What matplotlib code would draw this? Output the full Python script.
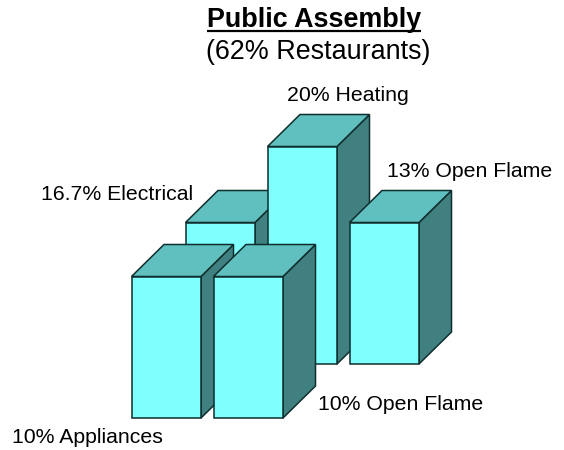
import matplotlib
matplotlib.use("Agg")
from matplotlib import pyplot as plt
from matplotlib.patches import Polygon

plt.rcParams['font.family'] = ['Liberation Sans', 'DejaVu Sans']

title = "Public Assembly"
subtitle = "(62% Restaurants)"

# drawn back row first, left to right
labels = ["16.7% Electrical", "20% Heating", "13% Open Flame", "10% Appliances", "10% Open Flame"]
# bar heights as pictured, not proportional to the percentages
heights = [141.5, 217.5, 141.5, 141.5, 141.5]

lefts = [185.5, 267.5, 349.5, 131.5, 213.5]
bases = [364, 364, 364, 418, 418]
label_x = [117, 348, 469.5, 87.5, 401]
label_y = [200.5, 101, 177, 443, 410]

BAR_W = 69.5
DEPTH_X = 32.5
DEPTH_Y = 32
FRONT = "#80ffff"
TOP = "#60c0c0"
SIDE = "#408080"
EDGE = "#102e2e"


def draw_bar(ax, left, base, height):
    right = left + BAR_W
    top = base - height
    side = [(right, base), (right + DEPTH_X, base - DEPTH_Y),
            (right + DEPTH_X, top - DEPTH_Y), (right, top)]
    lid = [(left, top), (left + DEPTH_X, top - DEPTH_Y),
           (right + DEPTH_X, top - DEPTH_Y), (right, top)]
    front = [(left, base), (left, top), (right, top), (right, base)]
    for pts, col in [(side, SIDE), (lid, TOP), (front, FRONT)]:
        ax.add_patch(Polygon(pts, closed=True, facecolor=col, edgecolor=EDGE,
                             linewidth=1.1, joinstyle='miter'))


fig = plt.figure(figsize=(5.64, 4.5), dpi=100)
ax = fig.add_axes([0, 0, 1, 1])
ax.set_xlim(0, 564)
ax.set_ylim(450, 0)
ax.axis('off')

for i in range(len(heights)):
    draw_bar(ax, lefts[i], bases[i], heights[i])

ax.text(314, 27, title, ha='center', va='baseline', fontsize=19.4, fontweight='bold', color='black')
ax.plot([207, 421], [30.5, 30.5], color='black', lw=1.6, solid_capstyle='butt')
ax.text(318, 59, subtitle, ha='center', va='baseline', fontsize=19.4, color='black')

for i in range(len(labels)):
    ax.text(label_x[i], label_y[i], labels[i], ha='center', va='baseline', fontsize=15.3, color='black')

fig.savefig("out.png", dpi=100)
